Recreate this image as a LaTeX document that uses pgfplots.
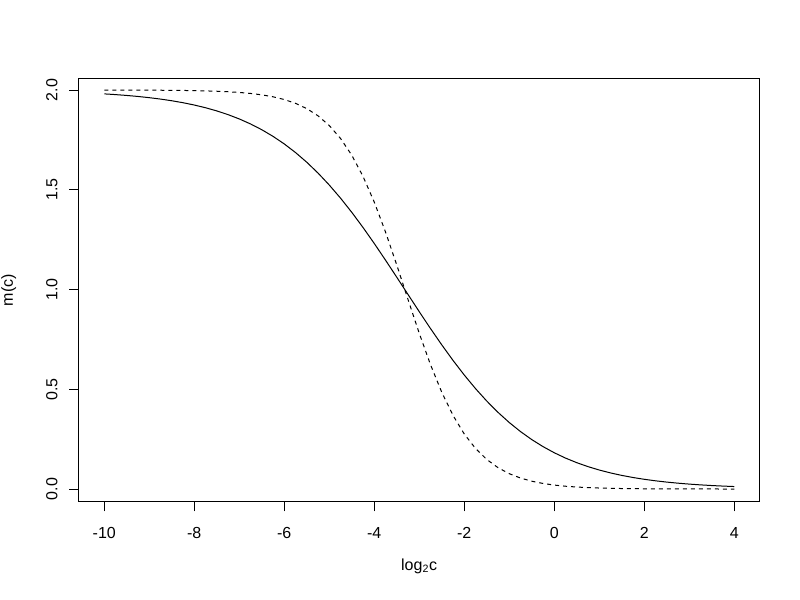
\documentclass[border=0pt]{standalone}
\usepackage{fontspec}
\setmainfont{Liberation Sans}
\usepackage{pgfplots}
\pgfplotsset{compat=1.18}
\usepackage{pgfplotstable}

% x = log2 c, solid curve m1, dashed curve m2
\pgfplotstableread{
x m1 m2
-10 1.98066 1.99981
-9.75 1.97704 1.99973
-9.5 1.97275 1.99962
-9.25 1.96768 1.99946
-9 1.96169 1.99924
-8.75 1.95460 1.99892
-8.5 1.94624 1.99847
-8.25 1.93638 1.99784
-8 1.92482 1.99695
-7.75 1.91122 1.99569
-7.5 1.89530 1.99391
-7.25 1.87670 1.99140
-7 1.85507 1.98787
-6.75 1.82998 1.98288
-6.5 1.80102 1.97588
-6.25 1.76774 1.96606
-6 1.72973 1.95234
-5.75 1.68661 1.93325
-5.5 1.63804 1.90689
-5.25 1.58381 1.87082
-5 1.52381 1.82206
-4.75 1.45813 1.75730
-4.5 1.38702 1.67320
-4.25 1.31099 1.56714
-4 1.23077 1.43820
-3.75 1.14728 1.28830
-3.5 1.06163 1.12281
-3.25 0.97508 0.95019
-3 0.88889 0.78049
-2.75 0.80434 0.62311
-2.5 0.72260 0.48485
-2.25 0.64469 0.36904
-2 0.57143 0.27586
-1.75 0.50340 0.20328
-1.5 0.44096 0.14815
-1.25 0.38429 0.10708
-1 0.33333 0.07692
-0.75 0.28793 0.05501
-0.5 0.24780 0.03922
-0.25 0.21256 0.02789
0 0.18182 0.01980
0.25 0.15513 0.01404
0.5 0.13208 0.00995
0.75 0.11225 0.00705
1 0.09524 0.00499
1.25 0.08070 0.00353
1.5 0.06830 0.00250
1.75 0.05774 0.00177
2 0.04878 0.00125
2.25 0.04118 0.00088
2.5 0.03474 0.00062
2.75 0.02929 0.00044
3 0.02469 0.00031
3.25 0.02080 0.00022
3.5 0.01752 0.00016
3.75 0.01476 0.00011
4 0.01242 0.00008
}\curves

\begin{document}
\fontsize{12}{14}\selectfont
\begin{tikzpicture}
\path[use as bounding box] (-59.25pt,-73.7pt) rectangle (540.75pt,376.3pt);
\begin{axis}[
  at={(0,0)}, anchor=south west,
  scale only axis, width=510.2pt, height=317.25pt,
  xmin=-10.562, xmax=4.556, ymin=-0.0637, ymax=2.0566,
  axis line style={line width=0.75pt},
  tick style={black, line width=0.75pt},
  tick align=outside, major tick length=7.2pt,
  xtick pos=left, ytick pos=left,
  xtick={-10,-8,-6,-4,-2,0,2,4},
  xticklabels={-10,-8,-6,-4,-2,0,2,4},
  ytick={0,0.5,1,1.5,2},
  yticklabels={0.0,0.5,1.0,1.5,2.0},
  xticklabel style={yshift=-20pt, anchor=base, inner sep=0pt},
  yticklabel style={xshift=-9pt, rotate=90, anchor=base, inner sep=0pt},
  xlabel={log\textsubscript{2}c}, ylabel={m(c)},
  every axis x label/.style={at={(axis description cs:0.5,0)}, anchor=base, yshift=-51.2pt, inner sep=0pt},
  every axis y label/.style={at={(axis description cs:0,0.5)}, xshift=-49.5pt, rotate=90, anchor=base, inner sep=0pt},
]
\addplot[black, line width=0.75pt] table[x=x, y=m1] {\curves};
\addplot[black, line width=0.75pt, dash pattern=on 3pt off 3pt] table[x=x, y=m2] {\curves};
\end{axis}
\end{tikzpicture}
\end{document}
